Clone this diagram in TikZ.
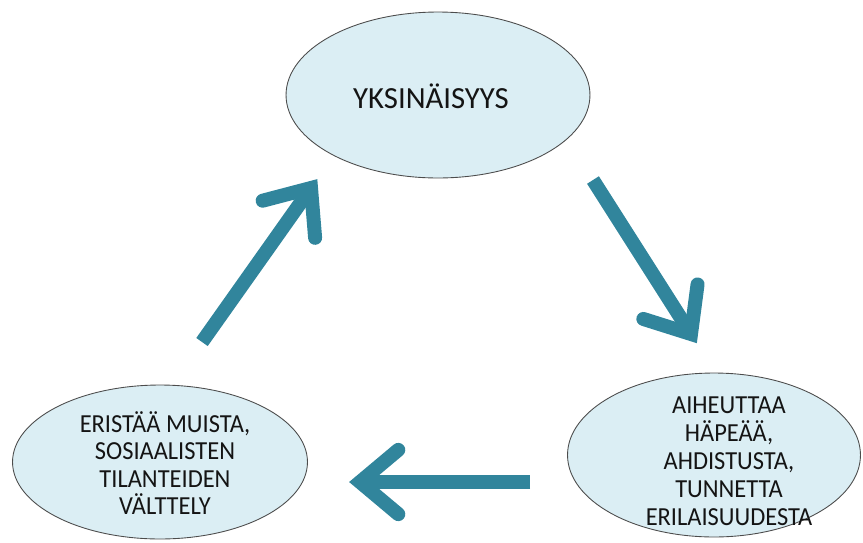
\documentclass[tikz,border=0pt]{standalone}
\usepackage{fontspec}
\setmainfont{Carlito}
\newfontfamily\narrowfont[FakeStretch=0.94]{Carlito}
\usetikzlibrary{shapes.geometric,calc}
\definecolor{cyclearrow}{HTML}{31859C}
\definecolor{bubblefill}{HTML}{DBEEF4}

\begin{document}
\begin{tikzpicture}[x=0.02cm, y=-0.02cm,
    bubble/.style={ellipse, draw=black!70, line width=0.5pt, fill=bubblefill, inner sep=0pt},
    caption/.style={align=center, font=\narrowfont\fontsize{14.8}{15.6}\selectfont, text=black!92, inner sep=0pt},
    shaft/.style={line width=0.28cm, cyclearrow},
    barb/.style={shaft, line cap=round, line join=miter}]
  \useasboundingbox (0,0) rectangle (863,542);
  % Ellipses with their texts
  \node[bubble, minimum width=6.08cm, minimum height=3.32cm] (lonely) at (438,95) {};
  \node[caption, font=\fontsize{17.5}{21}\selectfont] (lonelytext) at (431,96) {YKSINÄISYYS};
  \node[bubble, minimum width=5.86cm, minimum height=3.28cm] (shame) at (714,455) {};
  \node[caption, font=\narrowfont\fontsize{14.8}{16}\selectfont] (shametext) at (729,461) {AIHEUTTAA\\HÄPEÄÄ,\\AHDISTUSTA,\\TUNNETTA\\ERILAISUUDESTA};
  \node[bubble, minimum width=5.9cm, minimum height=3.08cm] (avoid) at (160,462) {};
  \node[caption] (avoidtext) at (165,463) {ERISTÄÄ MUISTA,\\SOSIAALISTEN\\TILANTEIDEN\\VÄLTTELY};
  % Arrow ends
  \coordinate (upfrom) at (202,342);
  \coordinate (upto) at (311,188);
  \coordinate (downfrom) at (593,180);
  \coordinate (downto) at (691,334);
  \coordinate (leftfrom) at (530,482);
  \coordinate (leftto) at (360,482);
  % Arrows round the cycle
  \foreach \a/\b in {upfrom/upto, downfrom/downto, leftfrom/leftto}{
    \draw[shaft] (\a) -- (\b);
    \draw[barb] ($(\b)!1cm!40:(\a)$) -- (\b) -- ($(\b)!1cm!-40:(\a)$);
  }
\end{tikzpicture}
\end{document}
